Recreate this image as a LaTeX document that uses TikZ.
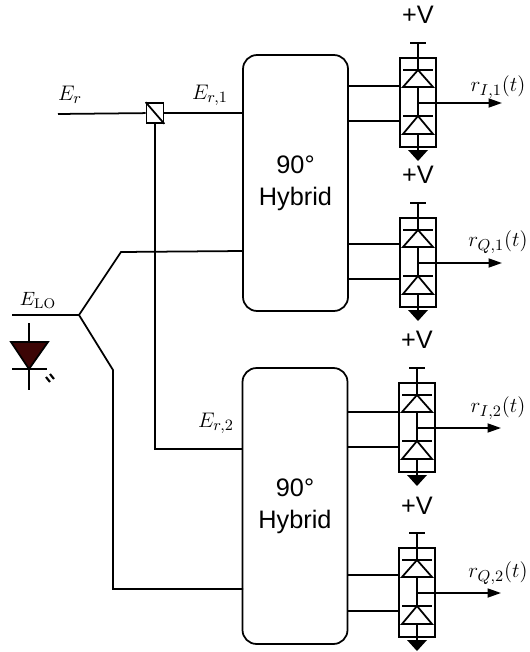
\documentclass[tikz,border=0pt]{standalone}
\usepackage[no-math]{fontspec}
\setmainfont{Liberation Sans}
\usetikzlibrary{arrows.meta}
\begin{document}
\begin{tikzpicture}[
    x=0.02cm,
    y=-0.02cm,
    line width=1pt,
    hybrid/.style={
      draw,
      rounded corners=0.28cm,
      minimum width=2.1cm,
      align=center,
      font=\Large
    },
    signal/.style={-{Triangle[length=0.27cm,width=0.18cm]}},
    supply/.style={font=\Large},
    port/.style={inner sep=0pt,font=\fontsize{13}{15}\selectfont},
    balanced/.pic={
      \draw (-8,-60) -- (8,-60);
      \draw (0,-60) -- (0,-33);
      \draw (-18,-45) rectangle (18,44);
      \draw (-15,-33) -- (15,-33);
      \draw (0,-33) -- (-15,-16) -- (15,-16) -- cycle;
      \draw (0,-16) -- (0,13);
      \draw (-15,13) -- (15,13);
      \draw (0,13) -- (-15,31) -- (15,31) -- cycle;
      \draw (0,31) -- (0,48);
      \fill (-10,47) -- (10,47) -- (0,58) -- cycle;
      \coordinate (-side) at (-18,0);
      \coordinate (-out) at (0,0);
    }
  ]

  \useasboundingbox (0,0) rectangle (529,652);

  % hybrids
  \node (hyb1) at (295.5,183) [hybrid,minimum height=5.12cm]{90°\\Hybrid};
  \node (hyb2) at (295,506) [hybrid,minimum height=5.52cm]{90°\\Hybrid};

  % detectors
  \pic (det1) at (418,103) {balanced};
  \pic (det2) at (418,263) {balanced};
  \pic (det3) at (417,428) {balanced};
  \pic (det4) at (417,593) {balanced};

  \node (v1) at (418,15) [supply]{+V};
  \node (v2) at (418,175) [supply]{+V};
  \node (v3) at (417,340) [supply]{+V};
  \node (v4) at (417,506) [supply]{+V};

  % outputs
  \coordinate (o1) at (502,103);
  \coordinate (o2) at (502,263);
  \coordinate (o3) at (501,428);
  \coordinate (o4) at (501,593);
  \draw[signal] (det1-out) -- (o1);
  \draw[signal] (det2-out) -- (o2);
  \draw[signal] (det3-out) -- (o3);
  \draw[signal] (det4-out) -- (o4);
  \node (r1) at (498,87) [port]{$r_{I,1}(t)$};
  \node (r2) at (498,242) [port]{$r_{Q,1}(t)$};
  \node (r3) at (498,408) [port]{$r_{I,2}(t)$};
  \node (r4) at (498,573) [port]{$r_{Q,2}(t)$};

  % hybrid outputs
  \coordinate (h1a) at (348,86);
  \coordinate (h1b) at (348,121);
  \coordinate (h1c) at (348,244);
  \coordinate (h1d) at (348,279);
  \coordinate (h2a) at (347,412);
  \coordinate (h2b) at (347,447);
  \coordinate (h2c) at (347,575);
  \coordinate (h2d) at (347,611);
  \draw (h1a) -- (h1a -| det1-side);
  \draw (h1b) -- (h1b -| det1-side);
  \draw (h1c) -- (h1c -| det2-side);
  \draw (h1d) -- (h1d -| det2-side);
  \draw (h2a) -- (h2a -| det3-side);
  \draw (h2b) -- (h2b -| det3-side);
  \draw (h2c) -- (h2c -| det4-side);
  \draw (h2d) -- (h2d -| det4-side);

  % signal path
  \node (pbs) at (155,113) [draw,minimum width=0.34cm,minimum height=0.4cm,inner sep=0pt]{};
  \draw (pbs.north west) -- (pbs.south east);
  \coordinate (er) at (58,114);
  \coordinate (h1in) at (243,113);
  \coordinate (h2in) at (243,449);
  \draw (er) -- (pbs);
  \draw (pbs) -- (h1in);
  \draw (pbs) |- (h2in);
  \node (lr) at (70,95) [port]{$E_r$};
  \node (lr1) at (210,95) [port]{$E_{r,1}$};
  \node (lr2) at (216,423) [port]{$E_{r,2}$};

  % local oscillator
  \coordinate (lo) at (12,315);
  \coordinate (split) at (79,315);
  \coordinate (h1lo) at (243,251);
  \coordinate (h2lo) at (243,589);
  \draw (lo) -- (split);
  \draw (split) -- (121,252) -- (h1lo);
  \draw (split) -- (113,370) -- (113,589) -- (h2lo);
  \node (llo) at (38,300) [port,font=\fontsize{11}{13}\selectfont]{$E_{\mathrm{LO}}$};

  % laser
  \coordinate (lt) at (29,323);
  \coordinate (lb) at (29,390);
  \draw (lt) -- (lb);
  \draw[fill={rgb,255:red,60;green,5;blue,5}] (11,342) -- (48,342) -- (29,369) -- cycle;
  \draw (12,369) -- (47,369);
  \draw[line width=1.2pt] (46,377) -- (50,382);
  \draw[line width=1.2pt] (50,374) -- (54,379);

\end{tikzpicture}
\end{document}
